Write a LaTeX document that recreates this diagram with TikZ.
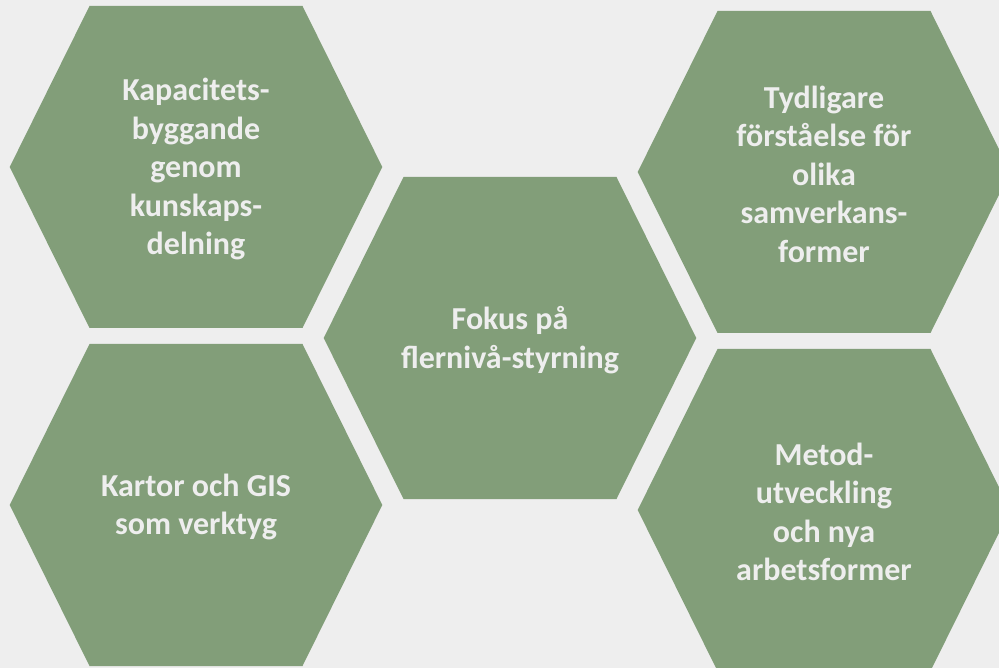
\documentclass[tikz,border=0pt]{standalone}
\usepackage{fontspec}
\setmainfont{Carlito}
\usepackage{tikz}
\definecolor{hexgreen}{HTML}{829E79}
\definecolor{paper}{HTML}{EEEEEE}

\begin{document}
\begin{tikzpicture}[
		x=1pt, y=-1pt,
		hexfill/.style = {fill=hexgreen},
		cell/.style = {text=paper, align=center, inner sep=0pt,
			font=\bfseries\fontsize{32}{38.5}\selectfont}
	]
	\fill[paper] (0,0) rectangle (999,668);
	\useasboundingbox (0,0) rectangle (999,668);
	% Hexagons with their labels.
	\foreach \cx/\cy/\nm/\txt in {
		196/167/kap/{Kapacitets-\\byggande\\genom\\kunskaps-\\delning},
		824/172/tyd/{Tydligare\\förståelse för\\olika\\samverkans-\\former},
		510/338/fok/{Fokus på\\flernivå-styrning},
		196/505/kar/{Kartor och GIS\\som verktyg},
		824/510/met/{Metod-\\utveckling\\och nya\\arbetsformer}} {
		\fill[hexfill] (\cx-186.3,\cy) -- (\cx-106.5,\cy-161) -- (\cx+106.5,\cy-161)
			-- (\cx+186.3,\cy) -- (\cx+106.5,\cy+161) -- (\cx-106.5,\cy+161) -- cycle;
		\node[cell] (\nm) at (\cx,\cy+2) {\txt};
	}
\end{tikzpicture}
\end{document}
